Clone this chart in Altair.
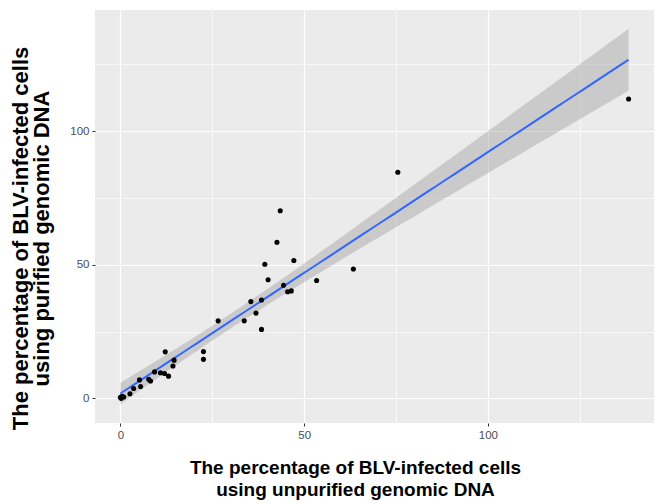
import altair as alt
import numpy as np
import pandas as pd

# Data
unpurified = [0.0, 0.2, 0.5, 0.9, 2.6, 3.6, 5.2, 5.5, 7.7, 8.2, 9.3, 10.9, 12.0, 13.1,
              14.3, 14.6, 12.2, 22.6, 22.6, 26.6, 33.7, 35.5, 36.9, 38.4, 38.4, 39.3,
              40.2, 42.6, 43.5, 44.4, 45.5, 46.5, 47.2, 53.4, 63.4, 75.5, 138.3]
purified = [0.4, 0.0, 0.8, 0.5, 1.7, 3.7, 6.9, 4.4, 7.1, 6.5, 9.9, 9.6, 9.3, 8.3,
            12.1, 14.3, 17.4, 17.5, 14.6, 29.0, 29.0, 36.2, 31.9, 36.8, 25.8, 50.2,
            44.4, 58.4, 70.2, 42.3, 39.9, 40.2, 51.6, 44.1, 48.4, 84.6, 112.0]
tick_values = [0, 25, 50, 75, 100, 125]
x_title = ["The percentage of BLV-infected cells", "using unpurified genomic DNA"]
y_title = ["The percentage of BLV-infected cells", "using purified genomic DNA"]

# Linear model with 95% confidence band (like geom_smooth(method="lm"))
xa = np.array(unpurified)
ya = np.array(purified)
n = len(xa)
b1, b0 = np.polyfit(xa, ya, 1)
resid = ya - (b0 + b1 * xa)
s = np.sqrt(np.sum(resid ** 2) / (n - 2))
sxx = np.sum((xa - xa.mean()) ** 2)
t_crit = 2.03
xg = np.linspace(xa.min(), xa.max(), 80)
fit = b0 + b1 * xg
se = s * np.sqrt(1.0 / n + (xg - xa.mean()) ** 2 / sxx)
fit_df = pd.DataFrame({"x": xg, "fit": fit, "lo": fit - t_crit * se, "hi": fit + t_crit * se})
pts = pd.DataFrame({"x": unpurified, "y": purified})

# ggplot-style 5% expansion
xr = xa.max() - xa.min()
xdom = [xa.min() - 0.05 * xr, xa.max() + 0.05 * xr]
ylo = min(ya.min(), fit_df["lo"].min())
yhi = max(ya.max(), fit_df["hi"].max())
yr = yhi - ylo
ydom = [ylo - 0.05 * yr, yhi + 0.05 * yr]

major = "datum.value % 50 === 0"
FONT = "Liberation Sans"

def make_axis(title, is_x):
    common = dict(
        values=tick_values,
        title=title,
        grid=True,
        gridColor="white",
        gridWidth={"condition": {"test": major, "value": 1.2}, "value": 0.6},
        domain=False,
        tickColor="#333333",
        tickSize=3,
        tickWidth=1,
        tickOpacity={"condition": {"test": major, "value": 1}, "value": 0},
        labelExpr=f"{major} ? datum.label : ''",
        labelColor="#4D4D4D",
        labelFont=FONT,
        labelFontSize=11.5,
        labelPadding=3,
        titleFont=FONT,
        titleFontWeight="bold",
        titleColor="black",
    )
    if is_x:
        common.update(titleFontSize=19, titleLineHeight=22, titleX=260, titleY=50,
                      titleBaseline="alphabetic", titleAlign="center")
    else:
        common.update(titleFontSize=22, titleLineHeight=21, titleX=-68, titleY=228,
                      titleBaseline="alphabetic", titleAlign="center", titleAngle=270)
    return alt.Axis(**common)

xs = alt.Scale(domain=xdom, nice=False, zero=False)
ys = alt.Scale(domain=ydom, nice=False, zero=False)
xax = make_axis(x_title, True)
yax = make_axis(y_title, False)

band = alt.Chart(fit_df).mark_area(color="#999999", opacity=0.4).encode(
    x=alt.X("x:Q", scale=xs, axis=xax),
    y=alt.Y("lo:Q", scale=ys, axis=yax),
    y2="hi:Q",
)
line = alt.Chart(fit_df).mark_line(color="#3366FF", strokeWidth=2).encode(
    x=alt.X("x:Q", scale=xs, axis=xax),
    y=alt.Y("fit:Q", scale=ys, axis=yax),
)
points = alt.Chart(pts).mark_circle(color="black", size=26, opacity=1).encode(
    x=alt.X("x:Q", scale=xs, axis=xax),
    y=alt.Y("y:Q", scale=ys, axis=yax),
)

chart = alt.layer(band, line, points).properties(
    width=559,
    height=413,
    autosize=alt.AutoSizeParams(type="none"),
    padding={"left": 95, "top": 10, "right": 5, "bottom": 81},
    background="white",
).configure_view(fill="#EBEBEB", stroke=None)

chart.save("out.html", embed_options={"renderer": "svg", "actions": False})
